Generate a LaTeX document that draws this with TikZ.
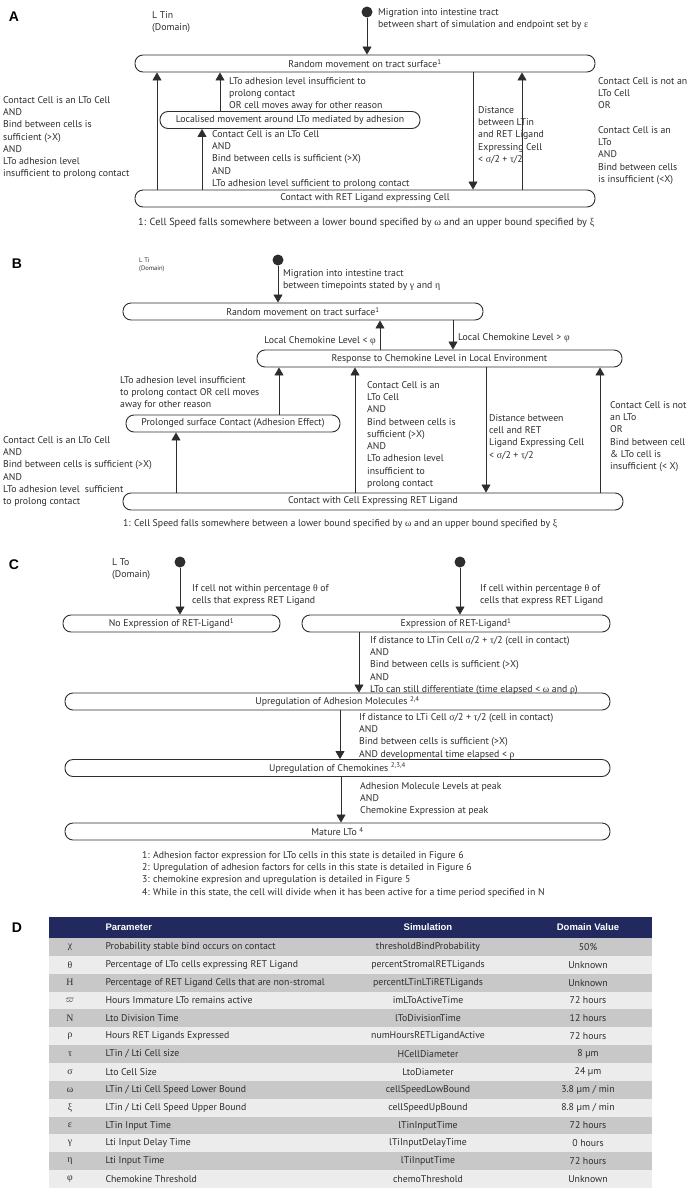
\documentclass[tikz,border=0pt]{standalone}
\usepackage{fontspec}
\setmainfont{PT Sans}
\newfontfamily\panelfont{Liberation Sans}
\newfontfamily\grk{Liberation Serif}
\usepackage{tikz}
\usetikzlibrary{arrows.meta,positioning}
\definecolor{ink}{RGB}{45,45,45}
\definecolor{tabnavy}{RGB}{33,41,94}
\definecolor{rowdark}{RGB}{200,200,200}
\definecolor{rowlight}{RGB}{236,236,236}
\newcommand{\txt}{\fontsize{9.8}{12.3}\selectfont}
\newcommand{\gr}[1]{{\grk #1}}
\tikzstyle{state} = [draw=ink, line width=0.9pt, rounded corners=8pt, minimum height=17pt, inner sep=0pt, text=ink, font=\txt]
\tikzstyle{arrow} = [line width=0.8pt, draw=ink, -{Triangle[width=9pt,length=8pt]}]
\tikzstyle{note} = [anchor=north west, align=left, inner sep=0pt, text=ink, font=\txt]
\tikzstyle{dot} = [circle, fill=ink, inner sep=0pt, minimum size=11pt]
\tikzstyle{panel} = [font=\panelfont\bfseries\fontsize{14}{14}\selectfont]
\tikzstyle{head} = [text=white, font=\panelfont\bfseries\fontsize{9.5}{10}\selectfont]

\begin{document}
\begin{tikzpicture}[x=1pt,y=-1pt]
\useasboundingbox (0,0) rectangle (693,1194);

% A: LTin
\node[panel] (labA) at (14,17) {A};
\node[note] (domA) at (152,11) {L Tin\\(Domain)};
\node[dot] (sA) at (367,12) {};
\node[note] (migA) at (378,8) {Migration into intestine tract\\between shart of simulation and endpoint set by \gr{ε}};
\node[state, minimum width=460pt] (rA) at (365,63.5) {Random movement on tract surface\textsuperscript{1}};
\node[state, minimum width=260pt] (lA) at (290,120) {Localised movement around LTo mediated by adhesion};
\node[state, minimum width=460pt] (cA) at (365,198.5) {Contact with RET Ligand expressing Cell};

\draw[arrow] (sA) -- (rA.north -| sA);
\draw[arrow] (cA.north -| 157,0) -- (rA.south -| 157,0);
\draw[arrow] (cA.north -| 202,0) -- (lA.south -| 202,0);
\draw[arrow] (lA.north -| 220,0) -- (rA.south -| 220,0);
\draw[arrow] (rA.south -| 473,0) -- (cA.north -| 473,0);
\draw[arrow] (cA.north -| 522,0) -- (rA.south -| 522,0);

\node[note] (tA1) at (3,96) {Contact Cell is an LTo Cell\\AND\\Bind between cells is\\sufficient (>X)\\AND\\LTo adhesion level\\insufficient to prolong contact};
\node[note] (tA2) at (212,130) {Contact Cell is an LTo Cell\\AND\\Bind between cells is sufficient (>X)\\AND\\LTo adhesion level sufficient to prolong contact};
\node[note] (tA3) at (229,77) {LTo adhesion level insufficient to\\prolong contact\\OR cell moves away for other reason};
\node[note] (tA4) at (478,106) {Distance\\between LTin\\and RET Ligand\\Expressing Cell\\< \gr{σ}/2 + \gr{τ}/2};
\node[note] (tA5) at (598,77) {Contact Cell is not an\\LTo Cell\\OR\\[12.3pt]Contact Cell is an\\LTo\\AND\\Bind between cells\\is insufficient (<X)};
\node[note, font=\fontsize{10.3}{12.3}\selectfont] (fA) at (138,218) {1: Cell Speed falls somewhere between a lower bound specified by \gr{ω} and an upper bound specified by \gr{ξ}};

% B: LTi
\node[panel] (labB) at (17,264) {B};
\node[note, font=\fontsize{6.5}{8}\selectfont] (domB) at (139,258) {L Ti\\(Domain)};
\node[dot] (sB) at (278,260) {};
\node[note] (migB) at (283,269) {Migration into intestine tract\\between timepoints stated by \gr{γ} and \gr{η}};
\node[state, minimum width=360pt] (rB) at (303,311.5) {Random movement on tract surface\textsuperscript{1}};
\node[state, minimum width=365pt] (resB) at (439.5,358.5) {Response to Chemokine Level in Local Environment};
\node[state, minimum width=214pt] (pB) at (233,423.5) {Prolonged surface Contact (Adhesion Effect)};
\node[state, minimum width=500pt] (cB) at (373,501.5) {Contact with Cell Expressing RET Ligand};

\draw[arrow] (sB) -- (rB.north -| sB);
\draw[arrow] (resB.north -| 380,0) -- (rB.south -| 380,0);
\draw[arrow] (rB.south -| 453,0) -- (resB.north -| 453,0);
\draw[arrow] (pB.north -| 279,0) -- (resB.south -| 279,0);
\draw[arrow] (cB.north -| 176,0) -- (pB.south -| 176,0);
\draw[arrow] (cB.north -| 355,0) -- (resB.south -| 355,0);
\draw[arrow] (resB.south -| 486,0) -- (cB.north -| 486,0);
\draw[arrow] (cB.north -| 600,0) -- (resB.south -| 600,0);

\node[note, anchor=north east] (tB1) at (376,336) {Local Chemokine Level < \gr{φ}};
\node[note] (tB2) at (458,333) {Local Chemokine Level > \gr{φ}};
\node[note] (tB3) at (120,376) {LTo adhesion level insufficient\\to prolong contact OR cell moves\\away for other reason};
\node[note] (tB4) at (3,436) {Contact Cell is an LTo Cell\\AND\\Bind between cells is sufficient (>X)\\AND\\LTo adhesion level\ \ sufficient\\to prolong contact};
\node[note] (tB5) at (367,381) {Contact Cell is an\\LTo Cell\\AND\\Bind between cells is\\sufficient (>X)\\AND\\LTo adhesion level\\insufficient to\\prolong contact};
\node[note] (tB6) at (489,414) {Distance between\\cell and RET\\Ligand Expressing Cell\\< \gr{σ}/2 + \gr{τ}/2};
\node[note] (tB7) at (610,401) {Contact Cell is not\\an LTo\\OR\\Bind between cell\\\& LTo cell is\\insufficient (< X)};
\node[note] (fB) at (123,519) {1: Cell Speed falls somewhere between a lower bound specified by \gr{ω} and an upper bound specified by \gr{ξ}};

% C: LTo
\node[panel] (labC) at (14,565) {C};
\node[note] (domC) at (112,558) {L To\\(Domain)};
\node[dot] (s1C) at (180,562) {};
\node[dot] (s2C) at (460,562) {};
\node[state, minimum width=217pt] (noC) at (171.5,623.5) {No Expression of RET-Ligand\textsuperscript{1}};
\node[state, minimum width=308pt] (exC) at (456,623.5) {Expression of RET-Ligand\textsuperscript{1}};
\node[state, minimum width=545pt] (adC) at (337.5,701.5) {Upregulation of Adhesion Molecules \textsuperscript{2,4}};
\node[state, minimum width=545pt] (chC) at (337.5,768) {Upregulation of Chemokines \textsuperscript{2,3,4}};
\node[state, minimum width=545pt] (maC) at (337.5,831.5) {Mature LTo \textsuperscript{4}};

\draw[arrow] (s1C) -- (noC.north -| s1C);
\draw[arrow] (s2C) -- (exC.north -| s2C);
\draw[arrow] (exC.south -| 359,0) -- (adC.north -| 359,0);
\draw[arrow] (adC.south -| 340,0) -- (chC.north -| 340,0);
\draw[arrow] (chC.south -| 341,0) -- (maC.north -| 341,0);

\node[note] (tC1) at (192,584) {If cell not within percentage \gr{θ} of\\cells that express RET Ligand};
\node[note] (tC2) at (480,584) {If cell within percentage \gr{θ} of\\cells that express RET Ligand};
\node[note] (tC3) at (370,636) {If distance to LTin Cell \gr{σ}/2 + \gr{τ}/2 (cell in contact)\\AND\\Bind between cells is sufficient (>X)\\AND\\LTo can still differentiate (time elapsed < \gr{ω} and \gr{ρ})};
\node[note] (tC4) at (359,713) {If distance to LTi Cell \gr{σ}/2 + \gr{τ}/2 (cell in contact)\\AND\\Bind between cells is sufficient (>X)\\AND developmental time elapsed < \gr{ρ}};
\node[note] (tC5) at (360,782) {Adhesion Molecule Levels at peak\\AND\\Chemokine Expression at peak};
\node[note] (fC) at (142,851) {1: Adhesion factor expression for LTo cells in this state is detailed in Figure 6\\2: Upregulation of adhesion factors for cells in this state is detailed in Figure 6\\3: chemokine expresion and upregulation is detailed in Figure 5\\4: While in this state, the cell will divide when it has been active for a time period specified in N};

% D: parameter table
\node[panel] (labD) at (17,928) {D};
\fill[tabnavy] (49,917) rectangle (652,938);
\node[head, anchor=west] (hPar) at (102,927.5) {Parameter};
\node[head] (hSim) at (428,927.5) {Simulation};
\node[head] (hVal) at (588,927.5) {Domain Value};
\foreach \gsym/\pname/\sname/\dval [count=\i] in {
  {\gr{χ}}/{Probability stable bind occurs on contact}/{thresholdBindProbability}/{50\%},
  {\gr{θ}}/{Percentage of LTo cells expressing RET Ligand}/{percentStromalRETLigands}/{Unknown},
  {\gr{H}}/{Percentage of RET Ligand Cells that are non-stromal}/{percentLTinLTiRETLigands}/{Unknown},
  {$\varpi$}/{Hours Immature LTo remains active}/{imLToActiveTime}/{72 hours},
  {\gr{N}}/{Lto Division Time}/{lToDivisionTime}/{12 hours},
  {\gr{ρ}}/{Hours RET Ligands Expressed}/{numHoursRETLigandActive}/{72 hours},
  {\gr{τ}}/{LTin / Lti Cell size}/{HCellDiameter}/{8 µm},
  {\gr{σ}}/{Lto Cell Size}/{LtoDiameter}/{24 µm},
  {\gr{ω}}/{LTin / Lti Cell Speed Lower Bound}/{cellSpeedLowBound}/{3.8 µm / min},
  {\gr{ξ}}/{LTin / Lti Cell Speed Upper Bound}/{cellSpeedUpBound}/{8.8 µm / min},
  {\gr{ε}}/{LTin Input Time}/{lTinInputTime}/{72 hours},
  {\gr{γ}}/{Lti Input Delay Time}/{lTiInputDelayTime}/{0 hours},
  {\gr{η}}/{Lti Input Time}/{lTiInputTime}/{72 hours},
  {\gr{φ}}/{Chemokine Threshold}/{chemoThreshold}/{Unknown}} {
  \pgfmathsetmacro{\y}{938+(\i-1)*17.86}
  \ifodd\i\def\rc{rowdark}\else\def\rc{rowlight}\fi
  \fill[\rc] (49,\y) rectangle (652,\y+17.86);
  \node[text=ink, font=\txt] (sym\i) at (70,\y+8.9) {\gsym};
  \node[text=ink, font=\txt, anchor=west] (par\i) at (102,\y+8.9) {\pname};
  \node[text=ink, font=\txt] (sim\i) at (428,\y+8.9) {\sname};
  \node[text=ink, font=\txt] (val\i) at (588,\y+8.9) {\dval};
}
\end{tikzpicture}
\end{document}
